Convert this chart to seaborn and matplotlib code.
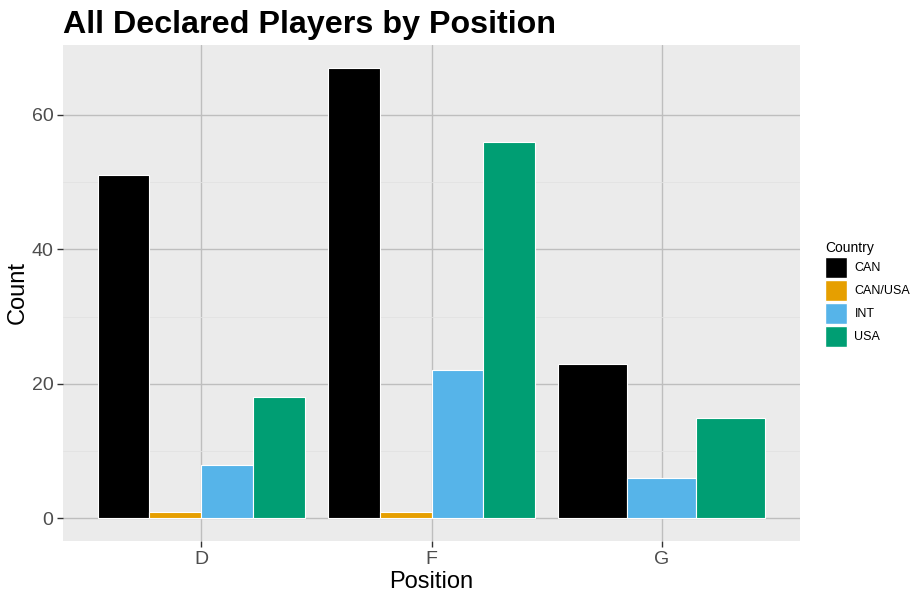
import matplotlib
matplotlib.use('Agg')
import matplotlib.pyplot as plt
import seaborn as sns
import pandas as pd
from matplotlib.patches import Patch

# data
positions = ['D', 'F', 'G']
countries = ['CAN', 'CAN/USA', 'INT', 'USA']
d_counts = [51, 1, 8, 18]
f_counts = [67, 1, 22, 56]
g_counts = [23, 0, 6, 15]  # no CAN/USA goalies
colors = ['#000000', '#E69F00', '#56B4E9', '#009E73']

sns.set_theme(style='darkgrid')
plt.rcParams['font.family'] = ['Liberation Sans', 'DejaVu Sans']
plt.rcParams['text.color'] = 'black'

palette = dict(zip(countries, colors))

# long table, drop empty groups like ggplot's dodge does
rows = []
for pos, counts in zip(positions, [d_counts, f_counts, g_counts]):
    for c, n in zip(countries, counts):
        if n > 0:
            rows.append({'Position': pos, 'Country': c, 'Count': n})
df = pd.DataFrame(rows)

# dodge positions: 0.9 wide group split evenly among present bars
df['xpos'] = 0.0
for i, pos in enumerate(positions):
    idx = df.index[df['Position'] == pos]
    slot = 0.9 / len(idx)
    for k, j in enumerate(idx):
        df.loc[j, 'xpos'] = (i + 1) - 0.45 + slot * (k + 0.5)

fig = plt.figure(figsize=(9.19, 6.01), dpi=100)
ax = fig.add_axes([63 / 919, 1 - 541 / 601, (800 - 63) / 919, (541 - 45) / 601])
ax.set_facecolor('#EBEBEB')

for pos in positions:
    sub = df[df['Position'] == pos]
    sns.barplot(data=sub, x='xpos', y='Count', hue='Country', hue_order=countries,
                palette=palette, saturation=1, native_scale=True, dodge=False, width=1,
                edgecolor='white', linewidth=0.8, errorbar=None, legend=False,
                ax=ax, zorder=3)

ax.set_xlim(0.4, 3.6)
ax.set_ylim(-3.35, 70.35)
ax.set_xticks([1, 2, 3])
ax.set_xticklabels(positions)
ax.set_yticks([0, 20, 40, 60])
ax.set_yticks([10, 30, 50], minor=True)
ax.grid(True, which='major', color='#BEBEBE', linewidth=1.0, zorder=0)
ax.grid(True, which='minor', axis='y', color='#E2E2E2', linewidth=0.6, zorder=0)
ax.set_axisbelow(True)
for s in ax.spines.values():
    s.set_visible(False)
ax.tick_params(axis='both', which='major', length=4, width=1, color='#333333',
               labelsize=14, labelcolor='#4D4D4D', pad=3, bottom=True, left=True)
ax.tick_params(axis='both', which='minor', length=0)

ax.set_xlabel('Position', fontsize=17, color='black', labelpad=2)
ax.set_ylabel('Count', fontsize=17, color='black', labelpad=2)

fig.text(63 / 919, 1 - 33 / 601, 'All Declared Players by Position',
         fontsize=23.2, fontweight='bold', color='black', va='baseline', ha='left')

handles = [Patch(facecolor=colors[i], edgecolor='white', linewidth=1.0, label=countries[i])
           for i in range(len(countries))]
leg = fig.legend(handles=handles, title='Country', loc='upper left',
                 bbox_to_anchor=(820 / 919, 1 - 236 / 601), frameon=False,
                 fontsize=9, title_fontsize=10, handlelength=1.75, handleheight=2.2,
                 labelspacing=0.16, handletextpad=0.6, borderaxespad=0)
leg._legend_box.align = 'left'

fig.savefig('out.png', dpi=100)
